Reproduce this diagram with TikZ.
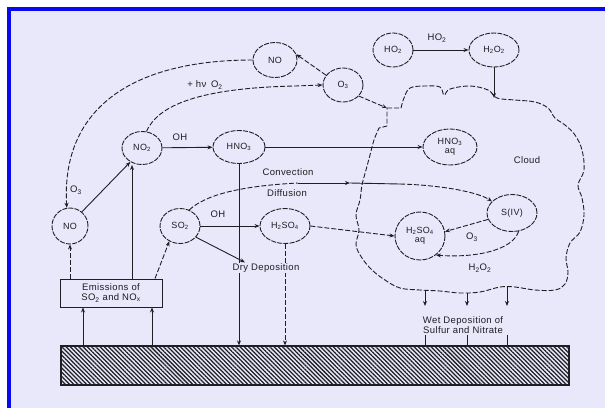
\documentclass[tikz,border=0pt]{standalone}
\usepackage{fontspec}
\setmainfont{Liberation Sans}[LetterSpace=4]
\usetikzlibrary{shapes.geometric,arrows.meta,patterns.meta}
\definecolor{bg}{RGB}{232,232,250}
\definecolor{ink}{RGB}{30,30,35}
\definecolor{frameblue}{RGB}{10,10,240}
\newcommand\chsub[1]{\textsubscript{#1}}
\begin{document}
\begin{tikzpicture}[x=1pt,y=-1pt,
 every node/.style={font=\fontsize{9.5}{10.5}\selectfont, text=ink},
 chem/.style={ellipse, draw=ink, line width=0.9pt, dash pattern=on 5pt off 1.2pt, inner sep=0pt, font=\fontsize{9}{9.5}\selectfont},
 ln/.style={draw=ink, line width=0.9pt},
 dl/.style={ln, dash pattern=on 5pt off 2pt},
 arr/.style={-{Stealth[length=5pt,width=4pt]}},
 lbl/.style={inner sep=1pt},
]
\useasboundingbox (0,0) rectangle (605,408);
\fill[white] (0,0) rectangle (605,408);
\fill[bg] (7,7) rectangle (605,408);
\fill[frameblue] (7,7) rectangle (605,10.5);
\fill[frameblue] (7,7) rectangle (10.5,408);

% cloud
\draw[dl] (387,108) -- (401,108) -- plot[smooth, tension=0.6] coordinates {
 (401,108) (404,98) (410,88) (425,86) (440,87) (444,95) (450,89) (470,86) (488,90) (497,98)
 (515,100) (535,102) (548,108) (555,118) (565,125) (575,135) (582,150) (584,170) (578,185) (582,198)
 (584,215) (580,232) (570,243) (566,258) (568,272) (565,284) (555,290) (535,290) (515,287) (500,287)
 (480,292) (460,293) (440,291) (420,290) (400,288) (385,280) (372,270) (362,258) (356,245) (359,230)
 (356,215) (360,200) (362,185) (366,170) (370,155) (374,140) (379,128)} -- (387,126) -- cycle;

% nodes
\node[chem, minimum width=44pt, minimum height=35pt] (NOt) at (275,60) {NO};
\node[chem, minimum width=40pt, minimum height=34pt] (O3) at (343,85) {O\chsub{3}};
\node[chem, minimum width=40pt, minimum height=34pt] (HO2) at (393,50) {HO\chsub{2}};
\node[chem, minimum width=50pt, minimum height=34pt] (H2O2) at (494,50) {H\chsub{2}O\chsub{2}};
\node[chem, minimum width=40pt, minimum height=33pt] (NO2) at (142,148) {NO\chsub{2}};
\node[chem, minimum width=52pt, minimum height=33pt] (HNO3) at (239,147) {HNO\chsub{3}};
\node[chem, minimum width=54pt, minimum height=36pt, align=center] (HNO3aq) at (450,147) {HNO\chsub{3}\\aq};
\node[chem, minimum width=36pt, minimum height=36pt] (NOb) at (70,226) {NO};
\node[chem, minimum width=40pt, minimum height=35pt] (SO2) at (180,226) {SO\chsub{2}};
\node[chem, minimum width=50pt, minimum height=35pt] (H2SO4) at (285,226) {H\chsub{2}SO\chsub{4}};
\node[chem, minimum width=50pt, minimum height=48pt, align=center] (H2SO4aq) at (420,236) {H\chsub{2}SO\chsub{4}\\aq};
\node[chem, minimum width=50pt, minimum height=37pt] (SIV) at (512,213) {S(IV)};
\node[draw=ink, line width=0.9pt, minimum width=102pt, minimum height=28pt, align=center, inner sep=1pt] (emis) at (111,293) {Emissions of\\SO\chsub{2} and NO\chsub{x}};
\node[draw=ink, line width=1.1pt, minimum width=508pt, minimum height=39pt, inner sep=0pt,
  pattern={Lines[angle=-45,distance=3pt,line width=1.25pt]}, pattern color=ink] (ground) at (315,365.5) {};

% top chemistry
\draw[ln,arr] (HO2) -- (H2O2);
\node[lbl] (lHO2) at (437,38) {HO\chsub{2}};
\coordinate (ctop) at (494,98);
\draw[ln,arr] (H2O2.south) -- (ctop);
\coordinate (nb) at (295,86);
\draw[dl,arr] (NO2.75) .. controls (158,105) and (200,88) .. (nb) -- (O3.west);
\node[lbl] (lhv) at (205,85) {+ hν\enspace O\chsub{2}};
\draw[dl,arr] (O3.150) -- (NOt.15);
\draw[dl,arr] (NOt.west) .. controls (130,60) and (61,110) .. (NOb.100);
\draw[ln,arr] (NOb.50) -- (NO2.230);
\node[lbl] (lO3a) at (76,190) {O\chsub{3}};

% nitrate
\draw[ln,arr] (NO2) -- (HNO3);
\node[lbl] (lOHa) at (180,137) {OH};
\draw[ln,arr] (HNO3) -- (HNO3aq);
\draw[ln,arr] (HNO3.south) -- (HNO3.south |- ground.north);

% sulfur
\draw[ln,arr] (SO2) -- (H2SO4);
\node[lbl] (lOHb) at (218,214) {OH};
\draw[dl,arr] (H2SO4.south) -- (H2SO4.south |- ground.north);
\node[lbl, fill=bg] (dry) at (266,268) {Dry Deposition};
\draw[ln,arr] (SO2.-35) -- (dry.165);
\draw[dl,arr] (H2SO4.east) -- (H2SO4aq.west);

% transport
\coordinate (cv1) at (298,183);
\coordinate (cv2) at (350,183);
\coordinate (cv3) at (400,184);
\draw[dl] (SO2.60) .. controls (205,195) and (240,186) .. (cv1);
\draw[ln,arr] (cv1) -- (cv2);
\draw[ln] (cv2) -- (cv3);
\draw[dl,arr] (cv3) .. controls (440,185) and (478,192) .. (SIV.150);
\node[lbl] (lconv) at (288,172) {Convection};
\node[lbl] (ldiff) at (287,193) {Diffusion};

% in-cloud
\draw[dl,arr] (SIV.195) -- (H2SO4aq.10);
\node[lbl] (lO3b) at (472,237) {O\chsub{3}};
\draw[dl,arr] (SIV.290) .. controls (512,252) and (470,258) .. (H2SO4aq.-50);
\node[lbl] (lH2O2) at (480,268) {H\chsub{2}O\chsub{2}};
\coordinate (cin) at (387,108);
\draw[dl,arr] (O3.-35) -- (cin);
\node[lbl] (cloud) at (527,160) {Cloud};

% wet deposition
\node[lbl, align=center] (wet) at (463,325) {Wet Deposition of\\Sulfur and Nitrate};
\coordinate (w1a) at (425,290); \coordinate (w1b) at (425,306);
\coordinate (w2a) at (467,293); \coordinate (w2b) at (467,306);
\coordinate (w3a) at (507,286); \coordinate (w3b) at (507,306);
\draw[ln,arr] (w1a) -- (w1b);
\draw[ln,arr] (w2a) -- (w2b);
\draw[ln,arr] (w3a) -- (w3b);
\draw[ln] (wet.south -| w1a) -- (ground.north -| w1a);
\draw[ln] (wet.south -| w2a) -- (ground.north -| w2a);
\draw[ln] (wet.south -| w3a) -- (ground.north -| w3a);

% emissions
\coordinate (g1) at (83,0);
\coordinate (g2) at (152,0);
\coordinate (vx) at (132,0);
\coordinate (e3) at (155,0);
\draw[ln,arr] (ground.north -| g1) -- (emis.south -| g1);
\draw[ln,arr] (ground.north -| g2) -- (emis.south -| g2);
\draw[dl,arr] (emis.north -| NOb) -- (NOb.south);
\draw[ln,arr] (emis.north -| vx) -- (vx |- NO2.south);
\draw[dl,arr] (emis.north -| e3) -- (SO2.235);
\end{tikzpicture}
\end{document}
